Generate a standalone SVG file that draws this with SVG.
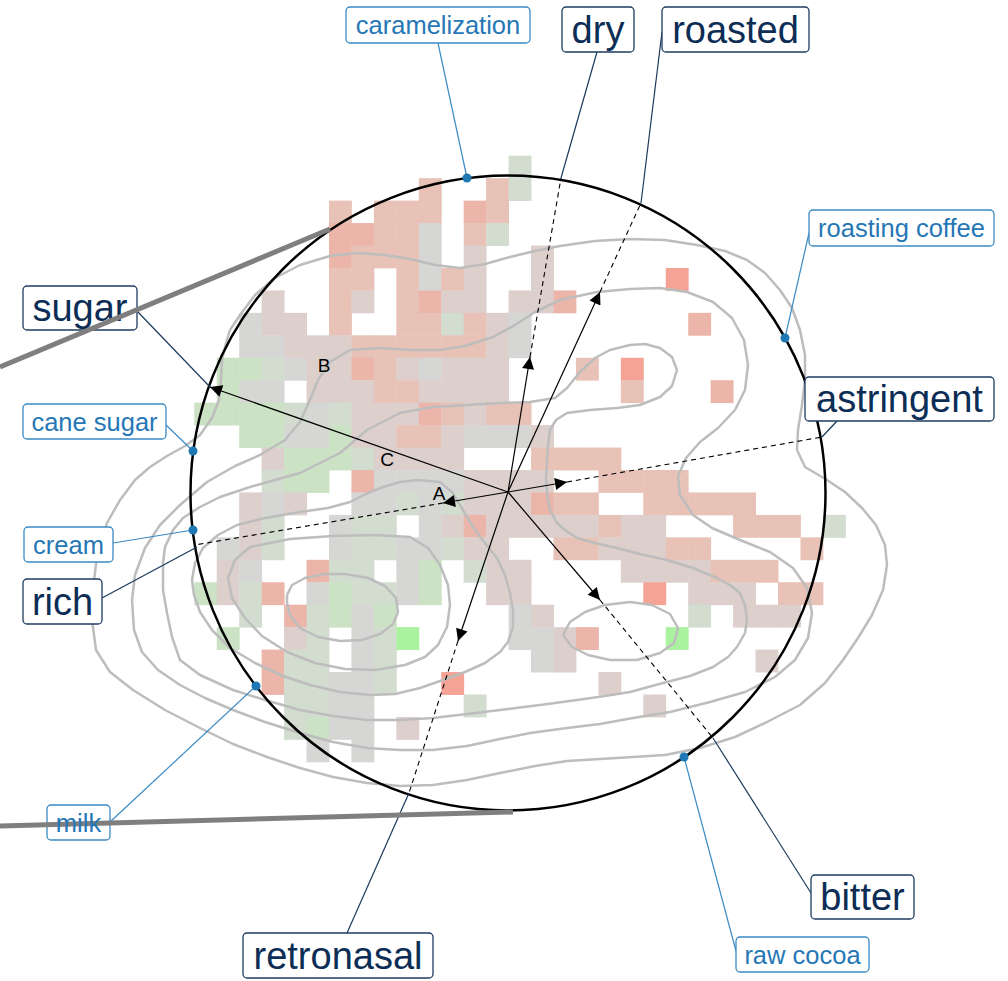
<svg xmlns="http://www.w3.org/2000/svg" width="1008" height="981" viewBox="0 0 1008 981">
<style>
.P{fill:#e8c2b7}.T{fill:#ebb6a9}.S{fill:#f4a395}.Q{fill:#dccfcc}.G{fill:#d6d6d4}.H{fill:#d2dccf}.L{fill:#cbe2c5}.B{fill:#aaf2a0}
.hm rect{width:1.02px;height:1.02px}
.ct{fill:none;stroke:#bdbdbd;stroke-width:2.5;stroke-linejoin:round}
.ax{stroke:#000;stroke-width:1.2;fill:none}
.dash{stroke:#000;stroke-width:1.1;stroke-dasharray:5 4;fill:none}
.ld{stroke:#1b3a5c;stroke-width:1.2;fill:none}
.lb{stroke:#3a8ac4;stroke-width:1.2;fill:none}
.bd{fill:#fff;stroke:#1e3d62;stroke-width:1.3}
.bb{fill:#fff;stroke:#3a8ac4;stroke-width:1.3}
.td{font-family:"Liberation Sans",Arial,sans-serif;font-size:38px;fill:#0c2d55;text-anchor:middle}
.tb{font-family:"Liberation Sans",Arial,sans-serif;font-size:25.5px;fill:#2677b5;text-anchor:middle}
.abc{font-family:"Liberation Sans",Arial,sans-serif;font-size:19px;fill:#000;text-anchor:middle}
.dot{fill:#1f77b4}
.thick{stroke:#7f7f7f;stroke-width:5;fill:none}
</style>
<defs>
<marker id="ah" viewBox="0 0 10 10" refX="10" refY="5" markerWidth="16" markerHeight="12" markerUnits="userSpaceOnUse" orient="auto">
<path d="M0,0 L10,5 L0,10 z" fill="#000"/>
</marker>
</defs>
<rect width="1008" height="981" fill="#fff"/>
<g id="heatmap" class="hm" transform="translate(194.3,155.7) scale(22.45)">
<rect x="14" y="0" class="H"/>
<rect x="10" y="1" class="P"/><rect x="13" y="1" class="P"/><rect x="14" y="1" class="H"/>
<rect x="6" y="2" class="P"/><rect x="8" y="2" class="P"/><rect x="9" y="2" class="P"/><rect x="10" y="2" class="P"/><rect x="12" y="2" class="T"/><rect x="13" y="2" class="P"/>
<rect x="6" y="3" class="T"/><rect x="7" y="3" class="T"/><rect x="8" y="3" class="P"/><rect x="9" y="3" class="P"/><rect x="10" y="3" class="G"/><rect x="12" y="3" class="P"/><rect x="13" y="3" class="H"/>
<rect x="6" y="4" class="T"/><rect x="7" y="4" class="P"/><rect x="8" y="4" class="P"/><rect x="9" y="4" class="P"/><rect x="10" y="4" class="G"/><rect x="12" y="4" class="Q"/><rect x="15" y="4" class="Q"/>
<rect x="6" y="5" class="P"/><rect x="7" y="5" class="P"/><rect x="9" y="5" class="P"/><rect x="10" y="5" class="G"/><rect x="11" y="5" class="P"/><rect x="12" y="5" class="Q"/><rect x="15" y="5" class="Q"/><rect x="21" y="5" class="S"/>
<rect x="3" y="6" class="Q"/><rect x="6" y="6" class="P"/><rect x="7" y="6" class="Q"/><rect x="9" y="6" class="P"/><rect x="10" y="6" class="T"/><rect x="11" y="6" class="Q"/><rect x="12" y="6" class="Q"/><rect x="14" y="6" class="Q"/><rect x="15" y="6" class="Q"/><rect x="16" y="6" class="T"/>
<rect x="2" y="7" class="G"/><rect x="3" y="7" class="Q"/><rect x="4" y="7" class="Q"/><rect x="6" y="7" class="P"/><rect x="9" y="7" class="P"/><rect x="10" y="7" class="P"/><rect x="11" y="7" class="H"/><rect x="12" y="7" class="P"/><rect x="13" y="7" class="Q"/><rect x="14" y="7" class="G"/><rect x="22" y="7" class="T"/>
<rect x="2" y="8" class="G"/><rect x="3" y="8" class="G"/><rect x="4" y="8" class="Q"/><rect x="5" y="8" class="Q"/><rect x="6" y="8" class="Q"/><rect x="7" y="8" class="P"/><rect x="8" y="8" class="P"/><rect x="9" y="8" class="P"/><rect x="10" y="8" class="P"/><rect x="11" y="8" class="P"/><rect x="12" y="8" class="P"/><rect x="13" y="8" class="Q"/><rect x="14" y="8" class="G"/>
<rect x="1" y="9" class="L"/><rect x="2" y="9" class="L"/><rect x="3" y="9" class="H"/><rect x="4" y="9" class="G"/><rect x="5" y="9" class="Q"/><rect x="6" y="9" class="Q"/><rect x="7" y="9" class="T"/><rect x="8" y="9" class="P"/><rect x="9" y="9" class="Q"/><rect x="10" y="9" class="G"/><rect x="11" y="9" class="Q"/><rect x="12" y="9" class="Q"/><rect x="13" y="9" class="Q"/><rect x="17" y="9" class="P"/><rect x="19" y="9" class="S"/>
<rect x="1" y="10" class="L"/><rect x="2" y="10" class="G"/><rect x="3" y="10" class="G"/><rect x="5" y="10" class="Q"/><rect x="6" y="10" class="Q"/><rect x="7" y="10" class="Q"/><rect x="8" y="10" class="P"/><rect x="9" y="10" class="P"/><rect x="10" y="10" class="Q"/><rect x="11" y="10" class="Q"/><rect x="12" y="10" class="Q"/><rect x="13" y="10" class="Q"/><rect x="19" y="10" class="P"/><rect x="23" y="10" class="T"/>
<rect x="0" y="11" class="L"/><rect x="1" y="11" class="L"/><rect x="2" y="11" class="L"/><rect x="3" y="11" class="L"/><rect x="4" y="11" class="H"/><rect x="5" y="11" class="G"/><rect x="6" y="11" class="H"/><rect x="7" y="11" class="Q"/><rect x="8" y="11" class="Q"/><rect x="9" y="11" class="Q"/><rect x="10" y="11" class="T"/><rect x="11" y="11" class="P"/><rect x="12" y="11" class="Q"/><rect x="13" y="11" class="P"/><rect x="14" y="11" class="P"/>
<rect x="2" y="12" class="L"/><rect x="3" y="12" class="L"/><rect x="4" y="12" class="G"/><rect x="5" y="12" class="G"/><rect x="6" y="12" class="L"/><rect x="7" y="12" class="Q"/><rect x="8" y="12" class="Q"/><rect x="9" y="12" class="P"/><rect x="10" y="12" class="P"/><rect x="11" y="12" class="Q"/><rect x="12" y="12" class="G"/><rect x="13" y="12" class="G"/><rect x="14" y="12" class="G"/><rect x="15" y="12" class="Q"/>
<rect x="3" y="13" class="Q"/><rect x="4" y="13" class="L"/><rect x="5" y="13" class="L"/><rect x="6" y="13" class="L"/><rect x="7" y="13" class="H"/><rect x="8" y="13" class="Q"/><rect x="9" y="13" class="Q"/><rect x="10" y="13" class="Q"/><rect x="11" y="13" class="Q"/><rect x="15" y="13" class="P"/><rect x="16" y="13" class="P"/><rect x="17" y="13" class="P"/><rect x="18" y="13" class="P"/>
<rect x="3" y="14" class="H"/><rect x="4" y="14" class="L"/><rect x="5" y="14" class="L"/><rect x="7" y="14" class="T"/><rect x="8" y="14" class="G"/><rect x="9" y="14" class="G"/><rect x="10" y="14" class="G"/><rect x="11" y="14" class="G"/><rect x="12" y="14" class="Q"/><rect x="13" y="14" class="Q"/><rect x="14" y="14" class="Q"/><rect x="15" y="14" class="Q"/><rect x="18" y="14" class="P"/><rect x="19" y="14" class="P"/><rect x="20" y="14" class="P"/><rect x="21" y="14" class="P"/>
<rect x="2" y="15" class="Q"/><rect x="3" y="15" class="G"/><rect x="4" y="15" class="Q"/><rect x="7" y="15" class="G"/><rect x="8" y="15" class="G"/><rect x="9" y="15" class="H"/><rect x="10" y="15" class="G"/><rect x="11" y="15" class="H"/><rect x="12" y="15" class="Q"/><rect x="13" y="15" class="Q"/><rect x="14" y="15" class="Q"/><rect x="15" y="15" class="T"/><rect x="16" y="15" class="P"/><rect x="17" y="15" class="P"/><rect x="20" y="15" class="P"/><rect x="21" y="15" class="P"/><rect x="22" y="15" class="P"/><rect x="23" y="15" class="P"/><rect x="24" y="15" class="P"/>
<rect x="2" y="16" class="Q"/><rect x="3" y="16" class="H"/><rect x="6" y="16" class="G"/><rect x="7" y="16" class="H"/><rect x="8" y="16" class="H"/><rect x="10" y="16" class="G"/><rect x="11" y="16" class="Q"/><rect x="12" y="16" class="T"/><rect x="13" y="16" class="Q"/><rect x="14" y="16" class="Q"/><rect x="15" y="16" class="Q"/><rect x="16" y="16" class="Q"/><rect x="17" y="16" class="Q"/><rect x="18" y="16" class="P"/><rect x="19" y="16" class="Q"/><rect x="20" y="16" class="Q"/><rect x="24" y="16" class="P"/><rect x="25" y="16" class="P"/><rect x="26" y="16" class="P"/><rect x="28" y="16" class="H"/>
<rect x="1" y="17" class="G"/><rect x="2" y="17" class="Q"/><rect x="3" y="17" class="H"/><rect x="6" y="17" class="G"/><rect x="7" y="17" class="H"/><rect x="8" y="17" class="H"/><rect x="9" y="17" class="G"/><rect x="10" y="17" class="G"/><rect x="11" y="17" class="H"/><rect x="12" y="17" class="Q"/><rect x="13" y="17" class="Q"/><rect x="16" y="17" class="P"/><rect x="17" y="17" class="P"/><rect x="18" y="17" class="Q"/><rect x="19" y="17" class="Q"/><rect x="20" y="17" class="Q"/><rect x="21" y="17" class="P"/><rect x="22" y="17" class="P"/><rect x="27" y="17" class="P"/>
<rect x="1" y="18" class="Q"/><rect x="2" y="18" class="G"/><rect x="5" y="18" class="T"/><rect x="6" y="18" class="H"/><rect x="7" y="18" class="H"/><rect x="9" y="18" class="G"/><rect x="10" y="18" class="L"/><rect x="12" y="18" class="H"/><rect x="13" y="18" class="Q"/><rect x="14" y="18" class="Q"/><rect x="19" y="18" class="Q"/><rect x="20" y="18" class="Q"/><rect x="21" y="18" class="Q"/><rect x="22" y="18" class="Q"/><rect x="23" y="18" class="P"/><rect x="24" y="18" class="P"/><rect x="25" y="18" class="P"/>
<rect x="0" y="19" class="L"/><rect x="1" y="19" class="Q"/><rect x="2" y="19" class="H"/><rect x="3" y="19" class="T"/><rect x="5" y="19" class="G"/><rect x="6" y="19" class="L"/><rect x="7" y="19" class="H"/><rect x="8" y="19" class="H"/><rect x="9" y="19" class="G"/><rect x="10" y="19" class="L"/><rect x="13" y="19" class="Q"/><rect x="14" y="19" class="Q"/><rect x="20" y="19" class="S"/><rect x="22" y="19" class="Q"/><rect x="23" y="19" class="Q"/><rect x="24" y="19" class="Q"/><rect x="26" y="19" class="P"/><rect x="27" y="19" class="P"/>
<rect x="2" y="20" class="H"/><rect x="4" y="20" class="T"/><rect x="5" y="20" class="H"/><rect x="6" y="20" class="L"/><rect x="7" y="20" class="G"/><rect x="8" y="20" class="L"/><rect x="14" y="20" class="G"/><rect x="15" y="20" class="Q"/><rect x="22" y="20" class="H"/><rect x="24" y="20" class="Q"/><rect x="25" y="20" class="Q"/><rect x="26" y="20" class="Q"/>
<rect x="1" y="21" class="L"/><rect x="4" y="21" class="Q"/><rect x="5" y="21" class="H"/><rect x="7" y="21" class="G"/><rect x="8" y="21" class="H"/><rect x="9" y="21" class="B"/><rect x="14" y="21" class="G"/><rect x="15" y="21" class="G"/><rect x="16" y="21" class="Q"/><rect x="17" y="21" class="T"/><rect x="21" y="21" class="B"/>
<rect x="3" y="22" class="T"/><rect x="4" y="22" class="H"/><rect x="5" y="22" class="H"/><rect x="7" y="22" class="G"/><rect x="8" y="22" class="H"/><rect x="15" y="22" class="G"/><rect x="16" y="22" class="Q"/><rect x="25" y="22" class="Q"/>
<rect x="3" y="23" class="T"/><rect x="4" y="23" class="H"/><rect x="5" y="23" class="H"/><rect x="6" y="23" class="G"/><rect x="7" y="23" class="G"/><rect x="8" y="23" class="H"/><rect x="11" y="23" class="S"/><rect x="18" y="23" class="Q"/>
<rect x="4" y="24" class="H"/><rect x="5" y="24" class="H"/><rect x="6" y="24" class="G"/><rect x="7" y="24" class="G"/><rect x="12" y="24" class="H"/><rect x="20" y="24" class="Q"/>
<rect x="4" y="25" class="H"/><rect x="5" y="25" class="L"/><rect x="6" y="25" class="G"/><rect x="7" y="25" class="G"/><rect x="9" y="25" class="Q"/>
<rect x="5" y="26" class="G"/><rect x="7" y="26" class="G"/>
</g>
<g id="contours">
<polyline class="ct" points="230,330 240,315 255,295 275,278 300,265 330,256 357,253 385,255 410,259 435,265 460,268 485,264 510,257 535,251 560,246 595,241 630,239 665,240 697,245 725,251 747,260 765,273 780,290 792,308 800,330 805,355 805,380 802,405 798,430 797,450 805,467 827,480 845,492 862,508 876,525 885,545 887,565 883,590 872,615 858,638 843,660 825,683 800,705 767,722 735,737 700,748 665,755 633,757 600,759 567,761 535,766 500,773 467,780 433,785 400,786 367,783 333,777 300,768 267,757 233,744 200,728 165,710 133,690 110,672 96,650 92,620 93,590 97,555 107,523 120,500 135,480 150,467 167,456 185,446 200,435 212,418 219,400 221,380 222,360 226,343 230,330"/>
<polyline class="ct" points="410,350 440,350 465,346 493,337 515,325 535,312 560,300 597,292 630,289 660,288 687,292 713,302 732,318 744,340 748,365 745,390 735,410 718,428 700,442 686,458 678,476 680,495 693,515 712,528 740,540 770,552 793,568 807,588 812,613 808,638 795,660 775,677 745,692 710,702 670,712 633,718 600,724 567,728 530,733 500,739 467,746 433,750 400,750 367,748 333,742 300,733 265,722 233,710 205,698 180,685 158,670 142,652 134,630 132,600 135,575 145,548 160,525 180,505 207,482 235,466 260,455 285,440 300,422 310,400 318,380 330,362 350,350 380,348 410,350"/>
<polyline class="ct" points="500,403 467,405 433,407 400,413 367,430 340,453 300,473 250,487 220,497 200,507 183,518 173,530 165,547 163,563 163,590 167,613 172,637 180,660 200,675 233,690 265,700 300,710 333,716 367,720 400,720 433,718 467,714 500,710 540,705 577,700 605,696 630,692 663,683 690,676 713,667 728,657 737,647 745,633 747,620 745,605 740,593 730,585 717,578 693,568 667,560 640,554 617,548 595,543 577,538 565,530 557,523 550,510 547,493 546,478 547,463 548,445 550,430 556,420 567,413 590,410 617,408 640,405 660,397 672,386 677,370 672,357 660,348 645,344 630,345 610,350 595,358 580,372 567,388 555,398 530,402 500,403"/>
<polyline class="ct" points="417,480 440,482 452,492 460,505 473,527 485,543 497,558 505,575 510,593 513,610 513,627 508,642 500,652 485,663 465,672 443,680 420,688 395,694 370,695 340,692 310,685 283,676 255,663 230,648 212,630 200,612 194,595 192,580 195,563 203,548 218,535 237,525 265,518 300,512 328,508 350,502 368,493 383,487 400,482 417,480"/>
<polyline class="ct" points="250,547 290,539 333,536 375,535 410,537 428,548 440,565 448,585 450,605 447,627 438,645 425,657 405,665 375,670 345,669 315,663 287,652 262,636 245,618 232,598 228,578 235,560 250,547"/>
<polyline class="ct" points="287,595 292,585 305,578 325,574 345,574 368,578 385,586 396,598 398,612 393,624 380,634 362,640 340,641 318,637 300,628 290,615 287,603 287,595"/>
<polyline class="ct" points="563,635 570,622 585,612 605,605 630,602 652,605 670,614 678,628 674,643 660,653 637,660 610,660 588,655 572,647 563,635"/>
</g>
<circle id="circle" cx="508" cy="493" r="317.5" fill="none" stroke="#000" stroke-width="2.5"/>
<g id="connectors">
<line class="ax" x1="508" y1="492" x2="210" y2="387" marker-end="url(#ah)"/>
<line class="ax" x1="508" y1="492" x2="530" y2="357" marker-end="url(#ah)"/>
<line class="dash" x1="530" y1="357" x2="561" y2="178"/>
<line class="ax" x1="508" y1="492" x2="600" y2="292" marker-end="url(#ah)"/>
<line class="dash" x1="600" y1="292" x2="641" y2="203"/>
<line class="ax" x1="508" y1="492" x2="567" y2="482" marker-end="url(#ah)"/>
<line class="dash" x1="567" y1="482" x2="822" y2="437"/>
<line class="ax" x1="508" y1="492" x2="600" y2="600" marker-end="url(#ah)"/>
<line class="dash" x1="600" y1="600" x2="713" y2="738"/>
<line class="ax" x1="508" y1="492" x2="458" y2="641" marker-end="url(#ah)"/>
<line class="dash" x1="458" y1="641" x2="409" y2="793"/>
<line class="ax" x1="508" y1="492" x2="443" y2="503" marker-end="url(#ah)"/>
<line class="dash" x1="443" y1="503" x2="195" y2="545"/>
<line class="ld" x1="137" y1="311" x2="210" y2="387"/>
<line class="ld" x1="597" y1="52" x2="561" y2="178"/>
<line class="ld" x1="662" y1="32" x2="641" y2="203"/>
<line class="ld" x1="837" y1="421" x2="822" y2="437"/>
<line class="ld" x1="102" y1="598" x2="197" y2="547"/>
<line class="ld" x1="811" y1="893" x2="713" y2="738"/>
<line class="ld" x1="347" y1="933" x2="409" y2="793"/>
<line class="lb" x1="438" y1="43" x2="467" y2="178"/>
<line class="lb" x1="809" y1="233" x2="785" y2="338"/>
<line class="lb" x1="166" y1="425" x2="193" y2="451"/>
<line class="lb" x1="113" y1="543" x2="193" y2="530"/>
<line class="lb" x1="110" y1="822" x2="256" y2="686"/>
<line class="lb" x1="736" y1="951" x2="684" y2="757"/>
</g>
<g id="axis-letters">
<text class="abc" x="439" y="500">A</text>
<text class="abc" x="324" y="372">B</text>
<text class="abc" x="387" y="466">C</text>
</g>
<g id="sugar"><rect class="bd" x="23" y="286" width="114" height="44" rx="4"/><text class="td" x="80" y="321">sugar</text></g>
<g id="dry"><rect class="bd" x="562" y="7" width="72" height="45" rx="4"/><text class="td" x="598" y="43">dry</text></g>
<g id="roasted"><rect class="bd" x="662" y="7" width="147" height="45" rx="4"/><text class="td" x="735.5" y="43">roasted</text></g>
<g id="astringent"><rect class="bd" x="805" y="377" width="189" height="44" rx="4"/><text class="td" x="899.5" y="412">astringent</text></g>
<g id="rich"><rect class="bd" x="23" y="579" width="79" height="45" rx="4"/><text class="td" x="62.5" y="615">rich</text></g>
<g id="bitter"><rect class="bd" x="811" y="875" width="103" height="44" rx="4"/><text class="td" x="862.5" y="910">bitter</text></g>
<g id="retronasal"><rect class="bd" x="243" y="933" width="190" height="45" rx="4"/><text class="td" x="338" y="969">retronasal</text></g>
<g id="caramelization"><rect class="bb" x="346" y="7" width="184" height="36" rx="4"/><text class="tb" x="438" y="34">caramelization</text><circle class="dot" cx="467" cy="178" r="4.5"/></g>
<g id="roasting-coffee"><rect class="bb" x="809" y="210" width="185" height="36" rx="4"/><text class="tb" x="901.5" y="237">roasting coffee</text><circle class="dot" cx="785" cy="338" r="4.5"/></g>
<g id="cane-sugar"><rect class="bb" x="23" y="404" width="143" height="35" rx="4"/><text class="tb" x="94.5" y="431">cane sugar</text><circle class="dot" cx="193" cy="451" r="4.5"/></g>
<g id="cream"><rect class="bb" x="24" y="527" width="89" height="35" rx="4"/><text class="tb" x="68.5" y="554">cream</text><circle class="dot" cx="193" cy="530" r="4.5"/></g>
<g id="milk"><rect class="bb" x="47" y="805" width="63" height="35" rx="4"/><circle class="dot" cx="256" cy="686" r="4.5"/></g>
<g id="raw-cocoa"><rect class="bb" x="736" y="937" width="133" height="35" rx="4"/><text class="tb" x="802.5" y="964">raw cocoa</text><circle class="dot" cx="684" cy="757" r="4.5"/></g>
<g id="zoom-lines">
<line class="thick" x1="0" y1="367" x2="330" y2="229"/>
<line class="thick" x1="0" y1="826" x2="513" y2="812"/>
</g>
<text class="tb" x="78.5" y="832">milk</text>
</svg>
